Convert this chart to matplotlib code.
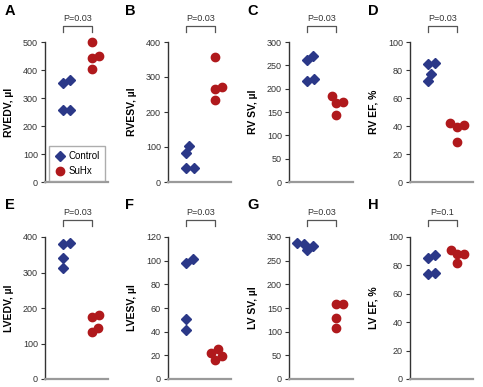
import matplotlib
matplotlib.use("Agg")
import matplotlib.pyplot as plt
from matplotlib.lines import Line2D
from matplotlib.transforms import blended_transform_factory

plt.rcParams['font.family'] = ['Liberation Sans', 'DejaVu Sans']

# values (control = diamonds, SuHx = circles)
letters = ['A', 'B', 'C', 'D', 'E', 'F', 'G', 'H']
ylabels = ['RVEDV, µl', 'RVESV, µl', 'RV SV, µl', 'RV EF, %',
           'LVEDV, µl', 'LVESV, µl', 'LV SV, µl', 'LV EF, %']
pvals = ['P=0.03', 'P=0.03', 'P=0.03', 'P=0.03',
         'P=0.03', 'P=0.03', 'P=0.03', 'P=0.1']
ymax = [500, 400, 300, 100, 400, 120, 300, 100]
ystep = [100, 100, 50, 20, 100, 20, 50, 20]

control = [
    [352, 258, 363, 258],
    [82, 40, 102, 40],
    [261, 217, 269, 220],
    [84, 72, 77, 85],
    [381, 340, 313, 384],
    [98, 51, 41.5, 101],
    [288, 286, 272, 280],
    [85, 74, 87, 75],
]
suhx = [
    [500, 443, 402, 449],
    [357, 265, 235, 272],
    [184, 170, 143, 172],
    [42, 39, 28.5, 41],
    [175, 133, 145, 180],
    [22, 16.4, 25.7, 19.2],
    [159, 128, 108, 159],
    [91, 88, 81.4, 88],
]

# horizontal scatter of the points around each group
control_jit = [
    [0, 0, 0.25, 0.25],
    [0, 0, 0.12, 0.27],
    [0, 0, 0.2, 0.24],
    [0, 0, 0.11, 0.25],
    [0, 0, 0, 0.24],
    [0, 0, 0, 0.24],
    [-0.36, -0.11, 0, 0.2],
    [0, 0, 0.25, 0.25],
]
suhx_jit = [
    [0, 0, 0, 0.25],
    [0, 0, 0, 0.24],
    [-0.14, 0, 0, 0.23],
    [-0.23, 0, 0, 0.23],
    [0, 0, 0.2, 0.23],
    [-0.13, 0, 0.1, 0.24],
    [0, 0, 0, 0.24],
    [-0.22, 0, 0, 0.24],
]

W, H = 483, 387
BLUE = '#2b3888'
RED = '#b0191c'

fig = plt.figure(figsize=(W / 100, H / 100), dpi=100)

col_left = [45, 168, 289, 410]
col_width = [63, 63, 64, 63]
row_top = [42, 237]
row_bot = [182, 379]
letter_x = [5, 125, 247, 368]
letter_y = [11, 205]

for i in range(8):
    r, c = divmod(i, 4)
    left, width = col_left[c], col_width[c]
    top, bot = row_top[r], row_bot[r]
    hpx = bot - top
    ax = fig.add_axes([left / W, (H - bot) / H, width / W, hpx / H])

    ax.plot([1 + j for j in control_jit[i]], control[i], 'D', color=BLUE,
            ms=4.6, mec=BLUE, clip_on=False, zorder=3)
    ax.plot([2 + j for j in suhx_jit[i]], suhx[i], 'o', color=RED,
            ms=6, mec=RED, clip_on=False, zorder=3)

    ax.set_xlim(0.38, 0.38 + width / 29)
    ax.set_ylim(0, ymax[i])
    ax.set_yticks(range(0, ymax[i] + 1, ystep[i]))
    ax.set_xticks([])
    for s in ['top', 'right']:
        ax.spines[s].set_visible(False)
    ax.spines['left'].set_color('#333333')
    ax.spines['left'].set_linewidth(1.0)
    ax.spines['bottom'].set_color('#9a9a9a')
    ax.spines['bottom'].set_linewidth(1.6)
    ax.tick_params(axis='y', length=3, width=0.8, color='#333333',
                   labelsize=6.5, labelcolor='#333333', pad=2)

    ax.set_ylabel(ylabels[i], fontsize=7.5, fontweight='bold')
    ax.yaxis.set_label_coords(-31 / width, 0.5)

    # significance bracket
    tr = blended_transform_factory(ax.transData, ax.transAxes)
    up = (16 if r == 0 else 17) / hpx
    leg = 6 / hpx
    ax.plot([1, 1, 2, 2], [1 + up - leg, 1 + up, 1 + up, 1 + up - leg],
            color='#555555', lw=0.9, transform=tr, clip_on=False)
    ax.text(1.5, 1 + up + 3 / hpx, pvals[i], transform=tr, ha='center',
            va='bottom', fontsize=6.5, color='#333333')

    fig.text(letter_x[c] / W, 1 - letter_y[r] / H, letters[i], ha='left',
             va='center', fontsize=10.5, fontweight='bold')

    if i == 0:
        handles = [
            Line2D([], [], marker='D', ls='none', color=BLUE, ms=4.6),
            Line2D([], [], marker='o', ls='none', color=RED, ms=6),
        ]
        ax.legend(handles, ['Control', 'SuHx'], loc='lower left',
                  bbox_to_anchor=(49 / W, 1 - 181 / H),
                  bbox_transform=fig.transFigure, fontsize=7,
                  frameon=True, fancybox=False, edgecolor='#999999',
                  handletextpad=0.3, handlelength=1.2, borderpad=0.5,
                  labelspacing=0.5, borderaxespad=0)

fig.savefig('out.png', dpi=100)
